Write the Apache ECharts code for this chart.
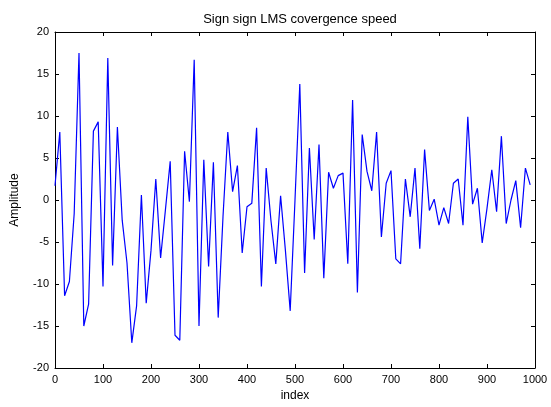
<!DOCTYPE html>
<html>
<head>
<meta charset="utf-8">
<script src="https://cdn.jsdelivr.net/npm/echarts@6/dist/echarts.min.js"></script>
<style>html,body{margin:0;padding:0;background:#fff;}#c{width:551px;height:407px;}</style>
</head>
<body>
<div id="c"></div>
<script>
const titleText = 'Sign sign LMS covergence speed';
const xLabel = 'index';
const yLabel = 'Amplitude';
const indexValues = [0,10,20,30,40,50,60,70,80,90,100,110,120,130,140,150,160,170,180,190,
  200,210,220,230,240,250,260,270,280,290,300,310,320,330,340,350,360,370,380,390,
  400,410,420,430,440,450,460,470,480,490,500,510,520,530,540,550,560,570,580,590,
  600,610,620,630,640,650,660,670,680,690,700,710,720,730,740,750,760,770,780,790,
  800,810,820,830,840,850,860,870,880,890,900,910,920,930,940,950,960,970,980,990];
const amplitude = [1.7,8.1,-11.4,-9.7,-1.6,17.5,-15.0,-12.4,8.2,9.3,
  -10.3,16.9,-7.8,8.7,-2.4,-7.5,-17.0,-12.6,0.6,-12.3,
  -6.0,2.5,-6.9,-1.2,4.6,-16.1,-16.7,5.8,-0.2,16.7,
  -15.0,4.8,-7.9,4.5,-14.0,-2.0,8.1,1.0,4.1,-6.3,
  -0.8,-0.4,8.6,-10.3,3.8,-2.5,-7.6,0.5,-6.0,-13.2,
  0.0,13.8,-8.7,6.2,-4.7,6.6,-9.3,3.3,1.4,2.9,
  3.2,-7.6,11.9,-11.0,7.8,3.4,1.1,8.1,-4.4,2.0,
  3.5,-7.0,-7.6,2.5,-2.0,3.8,-5.8,6.0,-1.25,0.1,
  -3.0,-0.9,-2.8,2.0,2.5,-3.0,9.9,-0.5,1.4,-5.1,
  -1.0,3.6,-1.4,7.6,-2.8,0.0,2.3,-3.3,3.8,1.8];
const xTicks = {min:0, max:1000, interval:100};
const yTicks = {min:-20, max:20, interval:5};

const chart = echarts.init(document.getElementById('c'), null, {renderer:'canvas'});
const font = 'Liberation Sans, Arial, sans-serif';
const plain = v => String(v);
const axisCommon = {
  axisLine:{show:true, onZero:false, lineStyle:{color:'#000', width:1}},
  axisTick:{show:true, inside:true, length:4, lineStyle:{color:'#000', width:1}},
  splitLine:{show:false},
  minorTick:{show:false}
};
chart.setOption({
  animation:false,
  backgroundColor:'#fff',
  title:{text:titleText, left:295, textAlign:'center', top:8,
    textStyle:{fontFamily:font, fontSize:13, fontWeight:'normal', color:'#000'}},
  grid:{left:55, right:16, top:32, bottom:35, containLabel:false},
  xAxis:[
    Object.assign({type:'value', position:'bottom', min:xTicks.min, max:xTicks.max, interval:xTicks.interval,
      name:xLabel, nameLocation:'middle', nameGap:22,
      nameTextStyle:{fontFamily:font, fontSize:12, color:'#000'},
      axisLabel:{fontFamily:font, fontSize:11, color:'#000', margin:6, formatter:plain}}, axisCommon),
    Object.assign({type:'value', position:'top', min:xTicks.min, max:xTicks.max, interval:xTicks.interval,
      axisLabel:{show:false}}, axisCommon)
  ],
  yAxis:[
    Object.assign({type:'value', position:'left', min:yTicks.min, max:yTicks.max, interval:yTicks.interval,
      name:yLabel, nameLocation:'middle', nameGap:34, nameRotate:90,
      nameTextStyle:{fontFamily:font, fontSize:12, color:'#000'},
      axisLabel:{fontFamily:font, fontSize:11, color:'#000', margin:6, formatter:plain}}, axisCommon),
    Object.assign({type:'value', position:'right', min:yTicks.min, max:yTicks.max, interval:yTicks.interval,
      axisLabel:{show:false}}, axisCommon)
  ],
  series:[{
    type:'line', xAxisIndex:0, yAxisIndex:0,
    data:indexValues.map((x,i)=>[x, amplitude[i]]),
    showSymbol:false, symbol:'none',
    lineStyle:{color:'#0000ff', width:1.2},
    emphasis:{disabled:true}
  }]
});
</script>
</body>
</html>
